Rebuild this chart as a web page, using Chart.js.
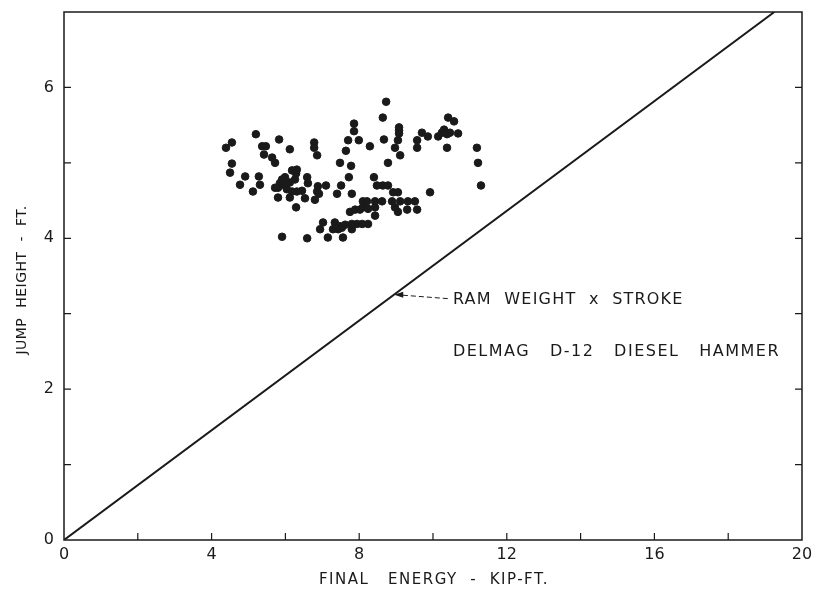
<!DOCTYPE html>
<html>
<head>
<meta charset="utf-8">
<script src="https://cdn.jsdelivr.net/npm/chart.js@4.4.1/dist/chart.umd.min.js"></script>
<style>
  html, body { margin: 0; padding: 0; background: #fff; }
</style>
</head>
<body>
<canvas id="jumpChart" width="819" height="595"></canvas>
<script>
// Measured points: final energy (kip-ft) vs jump height (ft)
const energy = [
  4.39, 4.55, 4.55, 4.50, 4.77, 4.91, 5.20, 5.37, 5.47, 5.42, 5.64, 5.72, 5.28, 5.31, 5.12,
  5.83, 6.12, 6.18, 6.31, 6.29, 5.91, 5.99, 6.26, 6.12, 5.85, 5.99, 6.59, 6.61, 5.72, 5.80,
  6.04, 6.18, 6.31, 6.45, 6.88, 6.86, 5.80, 6.12, 6.53, 6.80, 6.29, 6.78, 6.78, 6.86, 7.10,
  5.91, 6.59,
  7.02, 7.34, 7.48, 7.62, 7.80, 7.94, 8.08, 8.24, 6.94, 7.29, 7.43, 7.53, 7.80, 7.15, 7.56,
  7.75, 7.89, 8.02, 8.10, 8.10, 8.24, 8.43, 7.51, 7.40, 6.91, 7.80,
  8.73, 8.64, 7.86, 7.86, 8.67, 7.70, 7.99, 8.29, 7.64, 7.48, 7.78, 7.72, 8.78, 9.08, 9.08,
  9.08, 9.05, 8.97, 9.11,
  8.40, 8.48, 8.64, 8.78, 8.92, 9.05, 8.21, 8.43, 8.62, 8.89, 9.11, 9.32, 9.51, 8.43, 8.97,
  9.05, 9.30, 9.57,
  9.57, 9.57, 9.70, 9.86, 10.14, 10.24, 10.30, 10.38, 10.46, 10.68, 10.38, 10.41, 10.57, 9.92,
  11.19, 11.22, 11.30
];
const jumpHeight = [
  5.20, 5.27, 4.99, 4.87, 4.71, 4.82, 5.38, 5.22, 5.22, 5.11, 5.07, 5.00, 4.82, 4.71, 4.62,
  5.31, 5.18, 4.90, 4.91, 4.86, 4.78, 4.81, 4.78, 4.74, 4.73, 4.70, 4.81, 4.73, 4.67, 4.67,
  4.65, 4.62, 4.62, 4.63, 4.69, 4.62, 4.54, 4.54, 4.53, 4.51, 4.41, 5.27, 5.20, 5.10, 4.70,
  4.02, 4.00,
  4.21, 4.21, 4.16, 4.18, 4.19, 4.19, 4.19, 4.19, 4.12, 4.12, 4.12, 4.14, 4.12, 4.01, 4.01,
  4.35, 4.38, 4.38, 4.41, 4.49, 4.39, 4.30, 4.70, 4.59, 4.59, 4.59,
  5.81, 5.60, 5.52, 5.42, 5.31, 5.30, 5.30, 5.22, 5.16, 5.00, 4.96, 4.81, 5.00, 5.47, 5.43,
  5.39, 5.30, 5.20, 5.10,
  4.81, 4.70, 4.70, 4.70, 4.61, 4.61, 4.49, 4.49, 4.49, 4.49, 4.49, 4.49, 4.49, 4.41, 4.41,
  4.35, 4.38, 4.38,
  5.30, 5.20, 5.40, 5.35, 5.35, 5.40, 5.44, 5.38, 5.40, 5.39, 5.20, 5.60, 5.55, 4.61,
  5.20, 5.00, 4.70
];

// Ram weight x stroke reference line
const lineEnergy = [0, 19.25];
const lineHeight = [0, 7];

// Axis ticks
const xTickLabels = [0, 4, 8, 12, 16, 20];
const yTickLabels = [0, 2, 4, 6];

const noteLines = ["RAM  WEIGHT  x  STROKE", "DELMAG   D-12   DIESEL   HAMMER"];

const INK = "#1a1a1a";
const FONT = "'DejaVu Sans', 'Liberation Sans', sans-serif";

// Frame, inward ticks, axis titles and the note text
const framePlugin = {
  id: "frame",
  afterDraw(chart) {
    const { ctx, chartArea: a, scales } = chart;
    const x = scales.x, y = scales.y;
    ctx.save();
    ctx.strokeStyle = INK;
    ctx.lineWidth = 1.5;
    ctx.strokeRect(a.left, a.top, a.right - a.left, a.bottom - a.top);

    ctx.lineWidth = 1.2;
    ctx.beginPath();
    for (let v = 2; v < 20; v += 2) {
      const px = x.getPixelForValue(v);
      ctx.moveTo(px, a.bottom);
      ctx.lineTo(px, a.bottom - 7);
    }
    for (let v = 1; v < 7; v++) {
      const py = y.getPixelForValue(v);
      ctx.moveTo(a.left, py);
      ctx.lineTo(a.left + 7, py);
      ctx.moveTo(a.right, py);
      ctx.lineTo(a.right - 7, py);
    }
    ctx.stroke();

    // axis titles
    ctx.fillStyle = INK;
    ctx.textAlign = "center";
    ctx.textBaseline = "middle";
    ctx.font = "15px " + FONT;
    ctx.letterSpacing = "1.5px";
    ctx.fillText("FINAL   ENERGY  -  KIP-FT.", (a.left + a.right) / 2 + 1, 580);
    ctx.font = "14px " + FONT;
    ctx.letterSpacing = "0.5px";
    ctx.save();
    ctx.translate(22, 280);
    ctx.rotate(-Math.PI / 2);
    ctx.fillText("JUMP  HEIGHT  -  FT.", 0, 0);
    ctx.restore();

    // note with leader to the line
    const tx = x.getPixelForValue(10.54);
    ctx.textAlign = "left";
    ctx.font = "16px " + FONT;
    ctx.letterSpacing = "1.2px";
    ctx.fillText(noteLines[0], tx, y.getPixelForValue(3.19));
    ctx.letterSpacing = "1.5px";
    ctx.fillText(noteLines[1], tx, y.getPixelForValue(2.5));
    ctx.letterSpacing = "0px";

    const sx = x.getPixelForValue(10.4), sy = y.getPixelForValue(3.2);
    const ex = x.getPixelForValue(8.95), ey = y.getPixelForValue(3.25);
    ctx.lineWidth = 1;
    ctx.setLineDash([5, 3]);
    ctx.beginPath();
    ctx.moveTo(sx, sy);
    ctx.lineTo(ex + 4, ey);
    ctx.stroke();
    ctx.setLineDash([]);
    ctx.beginPath();
    ctx.moveTo(ex, ey);
    ctx.lineTo(ex + 9, ey - 3);
    ctx.lineTo(ex + 9, ey + 3);
    ctx.closePath();
    ctx.fill();
    ctx.restore();
  }
};

new Chart(document.getElementById("jumpChart"), {
  type: "scatter",
  data: {
    datasets: [
      {
        label: "Measured",
        data: energy.map((e, i) => ({ x: e, y: jumpHeight[i] })),
        backgroundColor: INK,
        borderColor: INK,
        pointRadius: 3.8,
        pointHoverRadius: 3.8,
      },
      {
        label: "Ram weight x stroke",
        type: "line",
        data: lineEnergy.map((e, i) => ({ x: e, y: lineHeight[i] })),
        borderColor: INK,
        borderWidth: 2,
        pointRadius: 0,
        fill: false,
      },
    ],
  },
  options: {
    responsive: false,
    animation: false,
    layout: { padding: { top: 12, right: 17, left: 0, bottom: 0 } },
    plugins: {
      legend: { display: false },
      tooltip: { enabled: false },
    },
    scales: {
      x: {
        type: "linear",
        min: 0,
        max: 20,
        afterFit: (s) => { s.height = 55; },
        grid: { display: false, drawTicks: false },
        border: { display: false },
        ticks: {
          stepSize: 2,
          padding: 5,
          maxRotation: 0,
          autoSkip: false,
          color: INK,
          font: { family: FONT, size: 16 },
          callback: (v) => (xTickLabels.includes(v) ? String(v) : ""),
        },
      },
      y: {
        type: "linear",
        min: 0,
        max: 7,
        afterFit: (s) => { s.width = 64; s.paddingTop = 0; s.paddingBottom = 0; },
        grid: { display: false, drawTicks: false },
        border: { display: false },
        ticks: {
          stepSize: 1,
          padding: 10,
          autoSkip: false,
          color: INK,
          font: { family: FONT, size: 16 },
          callback: (v) => (yTickLabels.includes(v) ? String(v) : ""),
        },
      },
    },
  },
  plugins: [framePlugin],
});
</script>
</body>
</html>
